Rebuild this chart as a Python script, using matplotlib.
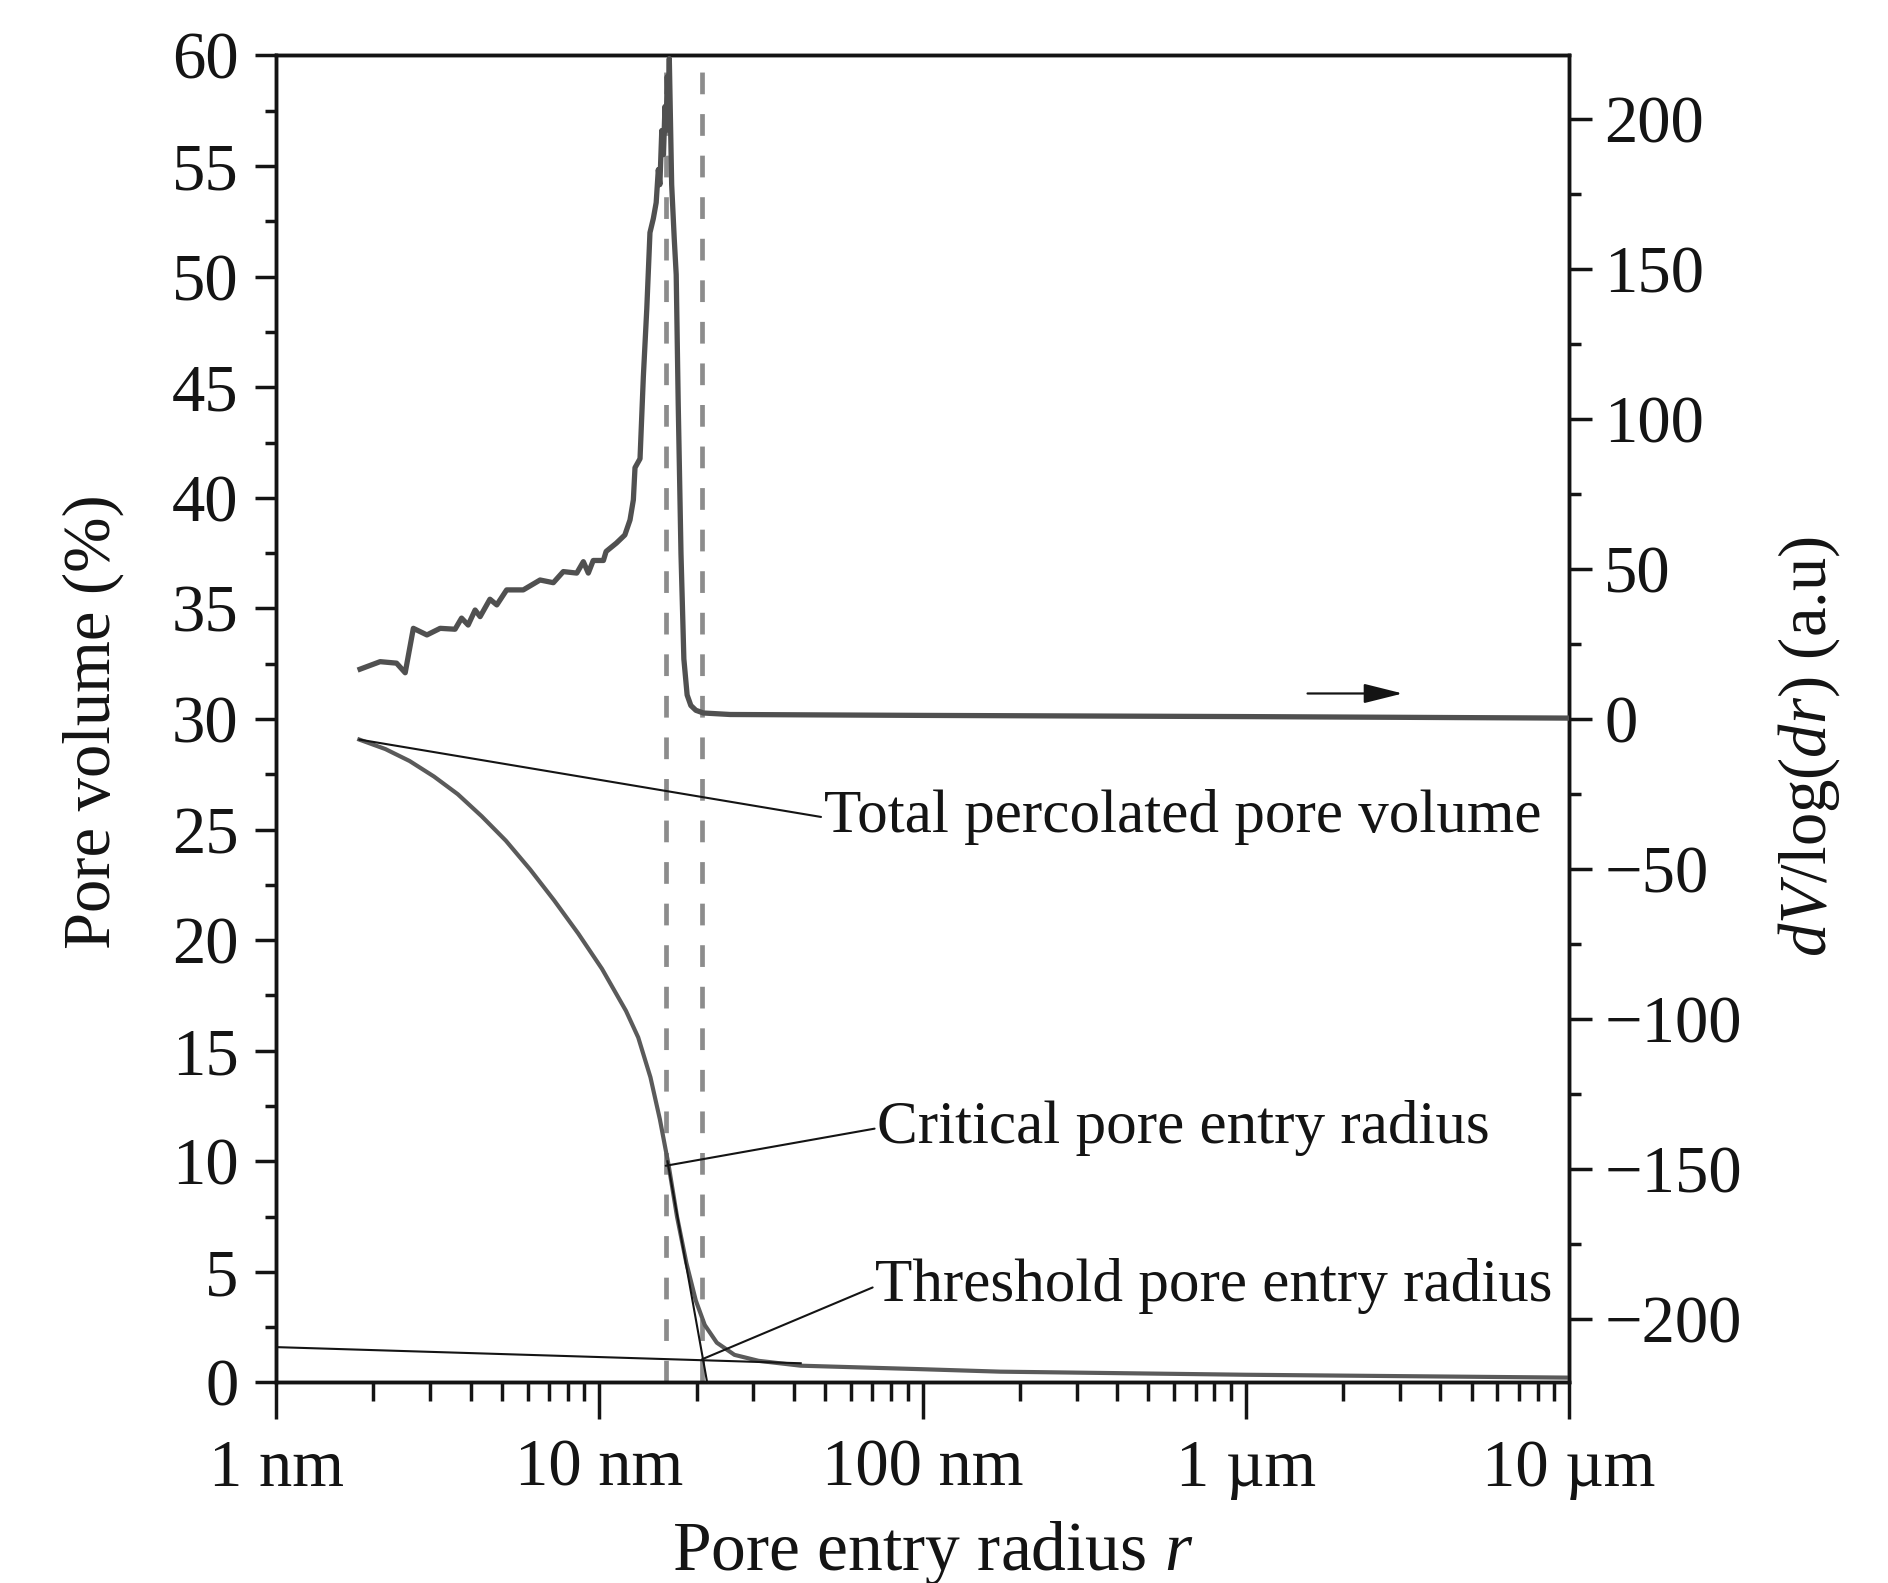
import matplotlib
matplotlib.use("Agg")
import matplotlib.pyplot as plt
from matplotlib.ticker import FixedLocator, LogLocator, MultipleLocator, NullFormatter

plt.rcParams['font.family'] = ['Liberation Serif', 'DejaVu Serif']
plt.rcParams['mathtext.fontset'] = 'custom'
plt.rcParams['mathtext.rm'] = 'Liberation Serif'
plt.rcParams['mathtext.it'] = 'Liberation Serif:italic'

# ---- data (radius in nm) ----
psd_r = [1.82, 2.10, 2.36, 2.51, 2.66, 2.93, 3.22, 3.58, 3.75, 3.93, 4.13, 4.28,
         4.59, 4.82, 5.17, 5.82, 6.56, 7.21, 7.74, 8.52, 8.93, 9.25, 9.58, 10.3,
         10.5, 11.3, 12.0, 12.45, 12.75, 12.9, 13.37, 13.69, 14.03, 14.35, 14.7,
         15.0, 15.23, 15.4, 15.61, 15.8, 15.97, 16.1, 16.23, 16.35, 16.47, 16.75,
         17.06, 17.3, 17.55, 17.9, 18.27, 18.7, 19.2, 19.9, 21.0, 25.4, 100, 1000, 10000]
psd_dv = [16.6, 19.1, 18.6, 15.4, 30.2, 28.0, 30.2, 29.9, 33.6, 31.3, 36.3, 34.1,
          39.9, 38.0, 43.0, 43.0, 46.3, 45.4, 49.1, 48.6, 52.4, 48.6, 52.8, 52.8,
          55.8, 58.6, 61.3, 66.3, 73.0, 83.7, 86.7, 114, 136.7, 162, 166.7,
          172, 183, 178, 196, 188, 204, 196, 214, 205, 220, 178,
          160, 148, 105, 55, 20, 8, 4.5, 2.9, 2.0, 1.5, 1.2, 0.8, 0.3]

pv_r = [1.81, 2.18, 2.59, 3.08, 3.65, 4.33, 5.14, 6.11, 7.25, 8.61, 10.2, 12.1,
        13.2, 14.4, 15.4, 16.4, 17.4, 18.6, 19.9, 21.2, 23.1, 26.2, 31.1, 42.0,
        100, 174, 1000, 10000]
pv_v = [29.07, 28.64, 28.1, 27.4, 26.6, 25.6, 24.5, 23.2, 21.8, 20.3, 18.7, 16.8,
        15.6, 13.8, 11.9, 9.8, 7.5, 5.4, 3.7, 2.6, 1.8, 1.25, 0.98, 0.76,
        0.6, 0.49, 0.35, 0.22]

critical_r = 16.06
threshold_r = 20.8

steep_tangent_r = [16.26, 21.57]
steep_tangent_v = [10.0, 0.0]
low_tangent_r = [1.0, 42.0]
low_tangent_v = [1.6, 0.87]

x_ticks = [1, 10, 100, 1000, 10000]
x_ticklabels = ['1 nm', '10 nm', '100 nm', '1 µm', '10 µm']
left_ticks = list(range(0, 61, 5))
right_ticks = list(range(-200, 201, 50))

fig = plt.figure(figsize=(18.88, 15.83), dpi=100)
ax = fig.add_axes([0.14619, 0.12666, 0.68485, 0.83828])
ax2 = ax.twinx()

curve_col = '#505050'
low_col = '#5a5a5a'
ink = '#141414'

# dashed markers
for xv in (critical_r, threshold_r):
    ax.axvline(xv, color='#8c8c8c', lw=3.4, ls=(0, (4.6, 4.2)), zorder=1)

# lower cumulative curve
ax.plot(pv_r, pv_v, color=low_col, lw=3.0, zorder=3, solid_joinstyle='round')
# tangents
ax.plot(steep_tangent_r, steep_tangent_v, color=ink, lw=1.5, zorder=4)
ax.plot(low_tangent_r, low_tangent_v, color=ink, lw=1.5, zorder=4)

# upper differential curve
ax2.plot(psd_r, psd_dv, color=curve_col, lw=3.8, zorder=3, solid_joinstyle='round')

ax.set_xscale('log')
ax.set_xlim(1, 10000)
ax.set_ylim(0, 60)
ax2.set_ylim(-221, 221)

# annotations
ann_kw = dict(fontsize=44, color=ink, ha='left', va='center',
              arrowprops=dict(arrowstyle='-', color=ink, lw=1.5, shrinkA=0, shrinkB=0,
                              relpos=(0, 0.5)))
ax.annotate('Total percolated pore volume', xy=(pv_r[0], pv_v[0]), xytext=(49.5, 25.55), **ann_kw)
ax.annotate('Critical pore entry radius', xy=(critical_r, 9.8), xytext=(72.5, 11.5), **ann_kw)
ax.annotate('Threshold pore entry radius', xy=(threshold_r, 1.05), xytext=(71.5, 4.35), **ann_kw)

# small arrow on right
ax2.annotate('', xy=(3059, 8.5), xytext=(1553, 8.5),
             arrowprops=dict(arrowstyle='-|>,head_length=1.2,head_width=0.3', color=ink, lw=1.6,
                             shrinkA=0, shrinkB=0, mutation_scale=20))

# ticks
ax.xaxis.set_major_locator(FixedLocator(x_ticks))
ax.set_xticklabels(x_ticklabels)
ax.xaxis.set_minor_locator(LogLocator(base=10, subs=range(2, 10), numticks=20))
ax.xaxis.set_minor_formatter(NullFormatter())
ax.yaxis.set_major_locator(FixedLocator(left_ticks))
ax.yaxis.set_minor_locator(MultipleLocator(2.5))
ax2.yaxis.set_major_locator(FixedLocator(right_ticks))
ax2.yaxis.set_minor_locator(MultipleLocator(25))

ax.tick_params(axis='x', which='major', direction='out', length=26.5, width=2.5, labelsize=48, pad=14, colors=ink)
ax.tick_params(axis='x', which='minor', direction='out', length=13.5, width=2.5, colors=ink)
ax.tick_params(axis='y', which='major', direction='out', length=15, width=2.5, labelsize=48, pad=12, colors=ink)
ax.tick_params(axis='y', which='minor', direction='out', length=8, width=2.5, colors=ink)
ax2.tick_params(axis='y', which='major', direction='out', length=16.5, width=2.5, labelsize=48, pad=9, colors=ink)
ax2.tick_params(axis='y', which='minor', direction='out', length=8.5, width=2.5, colors=ink)
ax.tick_params(top=False, which='both')
ax2.tick_params(top=False, which='both')

for a in (ax, ax2):
    for s in a.spines.values():
        s.set_linewidth(2.5)
        s.set_color(ink)

ax.set_xlabel('Pore entry radius $r$', fontsize=50, color=ink)
ax.xaxis.set_label_coords(0.508, -0.103)
ax.xaxis.label.set_va('top')
ax.set_ylabel('Pore volume (%)', fontsize=48, color=ink)
ax.yaxis.set_label_coords(-0.1176, 0.4977)
ax2.set_ylabel('$dV$/log($dr$) (a.u)', fontsize=48, color=ink, rotation=90)
ax2.yaxis.set_label_coords(1.160, 0.4793)

fig.savefig('out.png', dpi=100)
